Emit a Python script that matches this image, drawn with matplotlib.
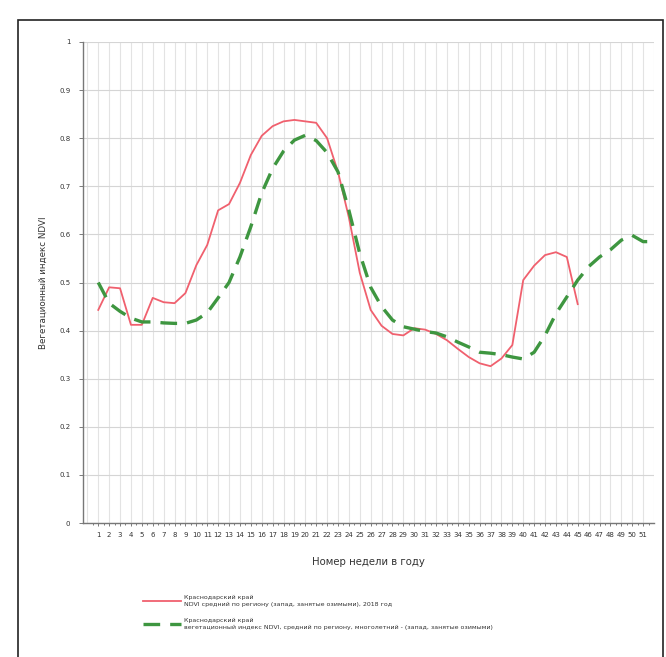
import matplotlib
matplotlib.use("Agg")
import matplotlib.pyplot as plt
from matplotlib.ticker import FixedLocator
from matplotlib.patches import Rectangle

plt.rcParams['font.family'] = ['DejaVu Sans']

weeks_red = list(range(1, 46))
ndvi_2018 = [0.443, 0.49, 0.488, 0.412, 0.412, 0.468, 0.459, 0.457, 0.478, 0.536,
             0.578, 0.65, 0.663, 0.707, 0.765, 0.805, 0.825, 0.835, 0.838, 0.835,
             0.832, 0.80, 0.73, 0.635, 0.52, 0.443, 0.41, 0.393, 0.39, 0.405,
             0.402, 0.393, 0.38, 0.362, 0.345, 0.332, 0.326, 0.342, 0.37, 0.505,
             0.535, 0.557, 0.563, 0.553, 0.455]

weeks_green = list(range(1, 53))
ndvi_multi = [0.50, 0.457, 0.44, 0.426, 0.418, 0.418, 0.416, 0.415, 0.415, 0.422,
              0.437, 0.468, 0.50, 0.553, 0.616, 0.686, 0.737, 0.773, 0.796, 0.806,
              0.795, 0.77, 0.73, 0.65, 0.56, 0.49, 0.45, 0.422, 0.408, 0.403,
              0.398, 0.395, 0.387, 0.376, 0.366, 0.355, 0.353, 0.35, 0.345, 0.341,
              0.355, 0.39, 0.435, 0.47, 0.505, 0.533, 0.553, 0.568, 0.588, 0.598,
              0.585, 0.585]

x_tick_labels = [str(i) for i in range(1, 52)]
y_ticks = [0, 0.1, 0.2, 0.3, 0.4, 0.5, 0.6, 0.7, 0.8, 0.9, 1]
y_tick_labels = ['0', '0.1', '0.2', '0.3', '0.4', '0.5', '0.6', '0.7', '0.8', '0.9', '1']

label_red = "Краснодарский край\nNDVI средний по региону (запад, занятые озимыми), 2018 год"
label_green = "Краснодарский край\nвегетационный индекс NDVI, средний по региону, многолетний - (запад, занятые озимыми)"
x_label = "Номер недели в году"
y_label = "Вегетационный индекс NDVI"

W, H = 666, 657
fig = plt.figure(figsize=(W / 100, H / 100), dpi=100)
fig.patch.set_facecolor('white')

# outer frame
fig.add_artist(Rectangle((18 / W, -0.01), (663 - 18) / W, (H - 20) / H + 0.01,
                         transform=fig.transFigure, fill=False,
                         edgecolor='#222222', linewidth=1.2))

left, right, top, bottom = 83, 654, 42, 523
ax = fig.add_axes([left / W, 1 - bottom / H, (right - left) / W, (bottom - top) / H])

ax.plot(weeks_red, ndvi_2018, color='#f0606e', linewidth=1.3, label=label_red, zorder=3)
ax.plot(weeks_green, ndvi_multi, color='#3e9640', linewidth=2.4,
        dashes=(5, 3), label=label_green, zorder=4)

ax.set_xlim(-0.4, 52)
ax.set_ylim(0, 1)

ax.set_xticks(range(1, 52))
ax.set_xticklabels(x_tick_labels, fontsize=5.0, color='#333333')
ax.xaxis.set_minor_locator(FixedLocator([i + 0.5 for i in range(0, 52)]))
ax.set_yticks(y_ticks)
ax.set_yticklabels(y_tick_labels, fontsize=5.0, color='#333333')

ax.tick_params(axis='x', which='major', length=2.5, width=0.6, color='#666666', pad=4)
ax.tick_params(axis='x', which='minor', length=1.5, width=0.6, color='#666666')
ax.tick_params(axis='y', which='major', length=3, width=0.6, color='#666666', pad=6)

# grid
for gx in range(0, 53):
    ax.axvline(gx, color='#e3e3e3', linewidth=0.8, zorder=0)
ax.yaxis.grid(True, color='#d5d5d5', linewidth=0.8, zorder=0)
ax.set_axisbelow(True)

for s in ['top', 'right']:
    ax.spines[s].set_visible(False)
for s in ['left', 'bottom']:
    ax.spines[s].set_color('#777777')
    ax.spines[s].set_linewidth(1.0)

ax.set_xlabel(x_label, fontsize=7.3, color='#333333', labelpad=14)
ax.set_ylabel(y_label, fontsize=6.3, color='#333333', labelpad=8)

leg = fig.legend(loc='upper left', bbox_to_anchor=(137 / W, 1 - 589 / H),
                 frameon=False, fontsize=4.5, handlelength=6.2, handletextpad=0.4,
                 labelspacing=1.6, labelcolor='#333333')
for t in leg.get_texts():
    t.set_linespacing(1.6)

fig.savefig('out.png', dpi=100, facecolor='white')
